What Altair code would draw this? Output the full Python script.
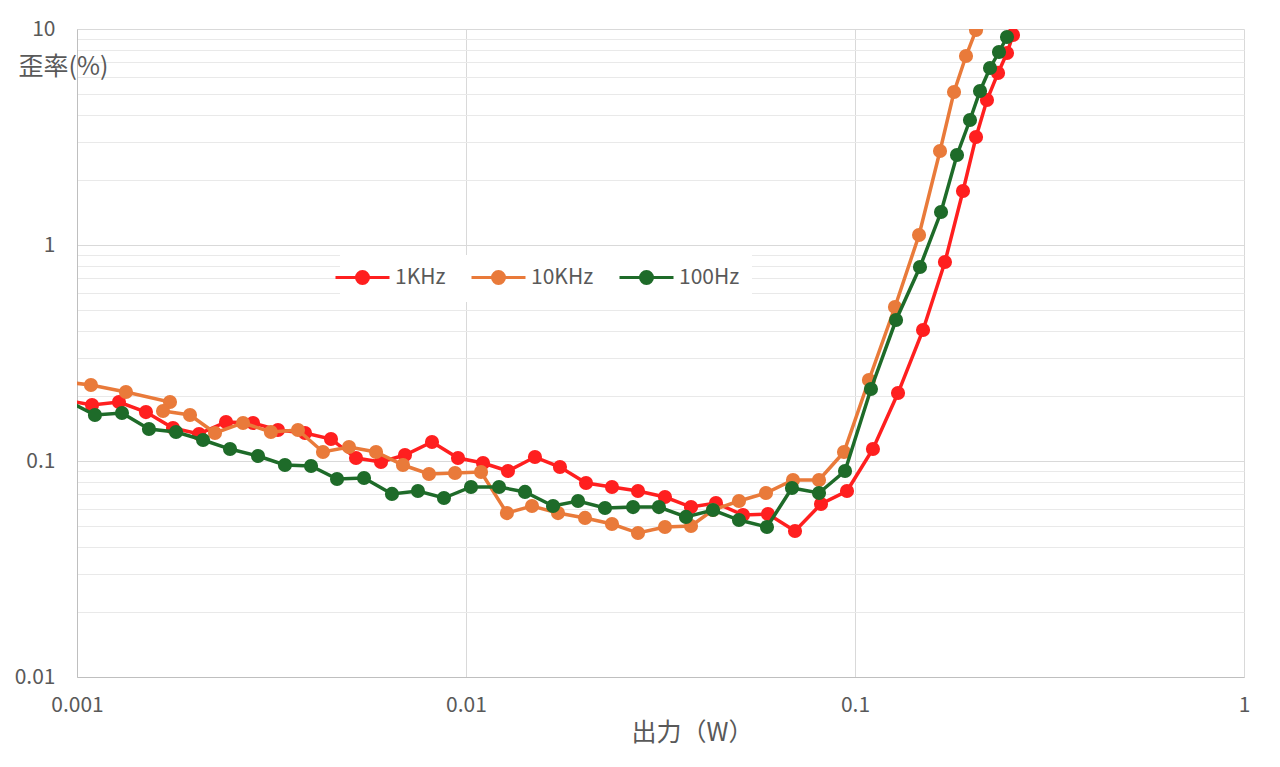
import altair as alt
import pandas as pd

FONT = "Noto Sans CJK JP"
SERIES = ["1KHz", "10KHz", "100Hz"]
COLORS = ["#FF1F1F", "#E97A3A", "#1E6B29"]

RED_X = [0.000934, 0.001093, 0.001282, 0.001504, 0.001765, 0.002059, 0.002416, 0.002835,
         0.003286, 0.003856, 0.004497, 0.005215, 0.006046, 0.006968, 0.008177, 0.009538,
         0.01106, 0.01282, 0.01504, 0.01744, 0.02035, 0.02373, 0.02768, 0.03247, 0.03788,
         0.04391, 0.05153, 0.05974, 0.07011, 0.08177, 0.09537, 0.1112, 0.1290, 0.1496,
         0.1703, 0.1895, 0.2047, 0.2184, 0.2332, 0.2459, 0.2548]
RED_Y = [0.1916, 0.1816, 0.1875, 0.1685, 0.1421, 0.1334, 0.1516, 0.1500, 0.1391, 0.1348,
         0.1264, 0.1032, 0.0989, 0.1066, 0.1224, 0.1032, 0.0979, 0.0899, 0.1043, 0.0938,
         0.0791, 0.0758, 0.0726, 0.0681, 0.0612, 0.0639, 0.0562, 0.0568, 0.0474, 0.0632,
         0.0726, 0.1136, 0.2064, 0.4043, 0.834, 1.778, 3.162, 4.69, 6.26, 7.74, 9.38]

ORANGE_X = [0.000888, 0.001086, 0.001336, 0.001734, 0.001664, 0.001952, 0.002263, 0.002672,
            0.003151, 0.003699, 0.004289, 0.005003, 0.005871, 0.006886, 0.008033, 0.009370,
            0.01093, 0.01274, 0.01478, 0.01724, 0.02023, 0.02373, 0.02768, 0.03247, 0.03788,
            0.04314, 0.05032, 0.05904, 0.06928, 0.08081, 0.09370, 0.1086, 0.1267, 0.1461,
            0.1654, 0.1797, 0.1929, 0.2047]
ORANGE_Y = [0.2346, 0.2248, 0.2086, 0.1875, 0.1704, 0.1633, 0.1348, 0.1500, 0.1362, 0.1392,
            0.1101, 0.1161, 0.1101, 0.0958, 0.0871, 0.0880, 0.0889, 0.0574, 0.0619, 0.0574,
            0.0545, 0.0511, 0.0464, 0.0495, 0.0500, 0.0593, 0.0653, 0.0711, 0.0817, 0.0817,
            0.1101, 0.2371, 0.5164, 1.112, 2.724, 5.109, 7.499, 9.89]

GREEN_X = [0.000948, 0.001112, 0.001305, 0.001531, 0.001797, 0.002109, 0.002474, 0.002920,
           0.003424, 0.003996, 0.004661, 0.005468, 0.006452, 0.007524, 0.008777, 0.01030,
           0.01216, 0.01418, 0.01674, 0.01941, 0.02277, 0.02688, 0.03133, 0.03677, 0.04315,
           0.05032, 0.05939, 0.06886, 0.08081, 0.09426, 0.1099, 0.1275, 0.1469, 0.1664,
           0.1829, 0.1975, 0.2096, 0.2224, 0.2345, 0.2459]
GREEN_Y = [0.1896, 0.1633, 0.1668, 0.1406, 0.1362, 0.1251, 0.1136, 0.1055, 0.0958, 0.0948,
           0.0825, 0.0834, 0.0704, 0.0726, 0.0674, 0.0758, 0.0758, 0.0719, 0.0619, 0.0653,
           0.0606, 0.0612, 0.0612, 0.0551, 0.0593, 0.0533, 0.0495, 0.0750, 0.0711, 0.0899,
           0.2154, 0.4494, 0.7910, 1.4215, 2.610, 3.791, 5.164, 6.598, 7.825, 9.183]

X_TICKS = [0.001, 0.01, 0.1, 1]
Y_TICKS = [0.01, 0.02, 0.03, 0.04, 0.05, 0.06, 0.07, 0.08, 0.09,
           0.1, 0.2, 0.3, 0.4, 0.5, 0.6, 0.7, 0.8, 0.9,
           1, 2, 3, 4, 5, 6, 7, 8, 9, 10]

frames = []
for name, xs, ys in zip(SERIES, [RED_X, ORANGE_X, GREEN_X], [RED_Y, ORANGE_Y, GREEN_Y]):
    frames.append(pd.DataFrame({"series": name, "power": xs, "thd": ys, "i": range(len(xs))}))
df = pd.concat(frames, ignore_index=True)

xscale = alt.Scale(type="log", domain=[0.001, 1], nice=False)
yscale = alt.Scale(type="log", domain=[0.01, 10], nice=False)
cscale = alt.Scale(domain=SERIES, range=COLORS)

major_test = "indexof([0.01, 0.1, 1, 10], datum.value) >= 0"

x_axis = alt.Axis(values=X_TICKS, grid=True, gridColor="#d9d9d9", ticks=False,
                  domainColor="#bfbfbf", labelFont=FONT, labelFontSize=21,
                  labelColor="#595959", labelPadding=17, labelFlush=False,
                  labelExpr="toString(datum.value)",
                  title="出力（W）", titleFont=FONT, titleFontSize=25,
                  titleFontWeight="normal", titleColor="#595959",
                  titleX=615, titleY=55, titleAlign="center", titleBaseline="middle")
y_axis = alt.Axis(values=Y_TICKS, grid=True,
                  gridColor={"condition": {"test": major_test, "value": "#d9d9d9"},
                             "value": "#e9e9e9"},
                  ticks=False, domainColor="#bfbfbf", labelFont=FONT, labelFontSize=21,
                  labelColor="#595959", labelPadding=22,
                  labelExpr=major_test + " ? toString(datum.value) : ''",
                  title="歪率(%)", titleFont=FONT, titleFontSize=25,
                  titleFontWeight="normal", titleColor="#595959", titleAngle=0,
                  titleX=-59, titleY=37, titleAlign="left", titleBaseline="middle")

LEG_PATH = ("M-4.5,0L4.5,0"
            "M-1,0A1,1,0,1,0,1,0A1,1,0,1,0,-1,0"
            "M-0.58,0A0.58,0.58,0,1,0,0.58,0A0.58,0.58,0,1,0,-0.58,0"
            "M-0.17,0A0.17,0.17,0,1,0,0.17,0A0.17,0.17,0,1,0,-0.17,0")

legend = alt.Legend(title=None, orient="none", legendX=263, legendY=226,
                    direction="horizontal", columns=3, gridAlign="none",
                    symbolType=LEG_PATH, symbolSize=144, symbolStrokeWidth=3,
                    labelFont=FONT, labelFontSize=21, labelColor="#595959",
                    labelOffset=22, columnPadding=19, fillColor="white", padding=12)

X = alt.X("power:Q", scale=xscale, axis=x_axis)
Y = alt.Y("thd:Q", scale=yscale, axis=y_axis)

layers = []
for k, name in enumerate(SERIES):
    sub = alt.Chart(df).transform_filter(alt.datum.series == name)
    line = sub.mark_line(strokeWidth=3.5, clip=True).encode(
        x=X, y=Y,
        color=alt.Color("series:N", scale=cscale, legend=legend if k == 0 else None),
        order=alt.Order("i:Q"),
    )
    pts = sub.mark_circle(size=200, opacity=1, clip=True).encode(
        x=X, y=Y,
        color=alt.Color("series:N", scale=cscale, legend=None),
    )
    layers += [line, pts]

chart = alt.layer(*layers).properties(
    width=1167, height=648,
    autosize=alt.AutoSizeParams(type="none"),
    padding={"left": 69, "top": 21, "right": 20, "bottom": 82},
    background="white",
).configure_view(stroke=None)

chart.save("out.html", embed_options={"renderer": "svg", "actions": False})
